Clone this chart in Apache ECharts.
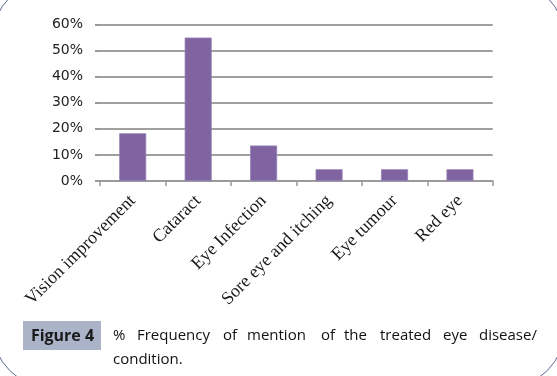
<!DOCTYPE html>
<html>
<head>
<meta charset="utf-8">
<script src="https://cdn.jsdelivr.net/npm/echarts@6/dist/echarts.min.js"></script>
<style>
html,body{margin:0;padding:0;background:#fff;}
#c{width:557px;height:376px;}
</style>
</head>
<body>
<div id="c"></div>
<script>
var categories = ['Vision improvement', 'Cataract', 'Eye Infection', 'Sore eye and itching', 'Eye tumour', 'Red eye'];
var values = [0.183, 0.55, 0.136, 0.045, 0.045, 0.045];
var yTicks = [0, 0.1, 0.2, 0.3, 0.4, 0.5, 0.6];

var figLabel = 'Figure 4';
var captionLine1 = ['%', 'Frequency', 'of', 'mention', 'of', 'the', 'treated', 'eye', 'disease/'];
var captionLine1X = [113, 137, 223, 247, 321, 344, 380, 443, 479];
var captionLine2 = 'condition.';

var chart = echarts.init(document.getElementById('c'), null, {renderer: 'canvas'});

var graphics = [
  {type: 'rect', shape: {x: -8, y: -20, width: 573, height: 408, r: 60},
   style: {fill: 'none', stroke: '#5d6b8f', lineWidth: 1}, silent: true},
  {type: 'rect', shape: {x: 23, y: 321, width: 78, height: 29},
   style: {fill: '#aab3c7'}},
  {type: 'text', x: 62.5, y: 336,
   style: {text: figLabel, fontFamily: 'Open Sans', fontWeight: 'bold', fontSize: 16,
           fill: '#1a1a1a', textAlign: 'center', textVerticalAlign: 'middle'}}
];
captionLine1.forEach(function (w, i) {
  graphics.push({type: 'text', x: captionLine1X[i], y: 336,
    style: {text: w, fontFamily: 'Open Sans', fontSize: 15, fill: '#111',
            textAlign: 'left', textVerticalAlign: 'middle'}});
});
graphics.push({type: 'text', x: 113, y: 360,
  style: {text: captionLine2, fontFamily: 'Open Sans', fontSize: 15, fill: '#111',
          textAlign: 'left', textVerticalAlign: 'middle'}});

chart.setOption({
  animation: false,
  backgroundColor: '#ffffff',
  grid: {left: 100, right: 64.3, top: 24.5, bottom: 195, containLabel: false},
  xAxis: {
    type: 'category',
    data: categories,
    boundaryGap: true,
    axisLine: {show: true, lineStyle: {color: '#9a9a9a', width: 2}},
    axisTick: {show: true, length: 5, alignWithLabel: false, lineStyle: {color: '#9a9a9a', width: 1.5}},
    axisLabel: {
      interval: 0, rotate: 45, margin: 17,
      fontFamily: 'Liberation Serif', fontSize: 18, color: '#1a1a1a'
    },
    splitLine: {show: false}
  },
  yAxis: {
    type: 'value',
    min: 0, max: 0.6, interval: 0.1,
    axisLine: {show: false},
    axisTick: {show: true, length: 5, lineStyle: {color: '#9a9a9a', width: 2}},
    splitLine: {show: true, lineStyle: {color: '#a0a0a0', width: 2}},
    axisLabel: {
      margin: 17,
      fontFamily: 'DejaVu Sans', fontSize: 14, color: '#222',
      formatter: function (v) { return Math.round(v * 100) + '%'; }
    }
  },
  series: [{
    type: 'bar',
    data: values,
    barWidth: 27,
    itemStyle: {color: '#8064a2', borderColor: '#9580b5', borderWidth: 0.8}
  }],
  graphic: graphics
});
</script>
</body>
</html>
